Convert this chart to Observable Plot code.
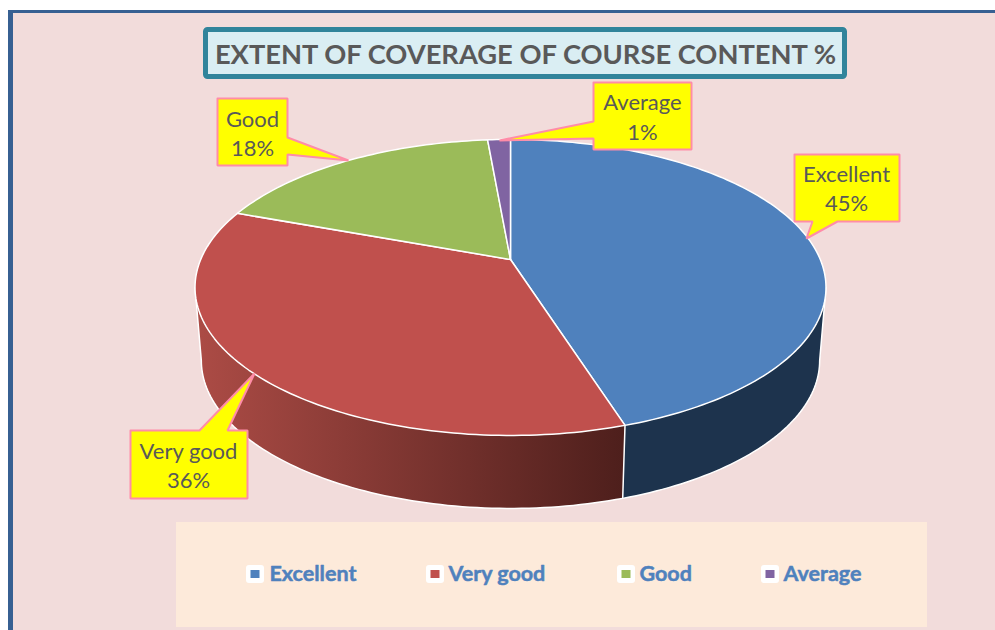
<!DOCTYPE html>
<html>
<head>
<meta charset="utf-8">
<script src="https://cdn.jsdelivr.net/npm/d3@7"></script>
<script src="https://cdn.jsdelivr.net/npm/@observablehq/plot@0.6"></script>
<style>html,body{margin:0;padding:0;background:#fff}svg{display:block}</style>
</head>
<body>
<div id="chart"></div>
<script>
// Data
const chartTitle = "EXTENT OF COVERAGE OF COURSE CONTENT %";
const categories = ["Excellent", "Very good", "Good", "Average"];
const shares = [45.1, 35.5, 18, 1.4];
const faceColors = ["#4F81BD", "#C0504D", "#9BBB59", "#8064A2"];

// Layout
const W = 995, H = 630;
const FONT = "Lato, 'Open Sans', sans-serif";
const INK = "#595959";
const PINK = "#FF8CA8";
const apex = {x: 510, y: 259};
const R = 309.8, S = 142.7, K = 0.189, DEPTH = 73, SHRINK = 0.98;

// Circle → perspective ellipse
function project(angle, low = false) {
  const u = Math.sin(angle), v = -Math.cos(angle), w = 1 - K * v;
  const f = low ? SHRINK : 1;
  return {
    x: apex.x + f * R * u / w,
    y: apex.y + S * v / w + (low ? DEPTH : 0)
  };
}
const pieArcs = d3.pie().sort(null).startAngle(0).endAngle(2 * Math.PI)(shares);
const arcAngles = (a0, a1, step = 0.02) => {
  const n = Math.max(2, Math.ceil((a1 - a0) / step));
  return d3.range(n + 1).map(i => a0 + (a1 - a0) * i / n);
};

const faces = pieArcs.flatMap((arc, i) => {
  const pts = [apex, ...arcAngles(arc.startAngle, arc.endAngle).map(a => project(a)), apex];
  return pts.map(p => ({...p, key: categories[i], color: faceColors[i]}));
});

// The angles where the pie is widest: the walls' visible ends
const aRight = Math.acos(-K), aLeft = 2 * Math.PI - aRight;
const aSplit = pieArcs[0].endAngle;

const wallOf = (a0, a1) => {
  const as = arcAngles(a0, a1);
  const top = as.map(a => project(a));
  const low = as.slice().reverse().map(a => project(a, true));
  return [...top, ...low, top[0]];
};
const blueWall = wallOf(aRight, aSplit);
const redWall = wallOf(aSplit, aLeft);

// White outline of the walls
const wallRim = [
  project(aRight),
  ...arcAngles(aRight, aLeft).map(a => project(a, true)),
  project(aLeft)
];
const seam = [project(aSplit), project(aSplit, true)];

// Callouts
const callouts = [
  {i: 0, box: [794, 154, 899, 221], ptr: [[812, 221], [806, 238], [837, 221]], cx: 846, ys: [174, 203]},
  {i: 1, box: [130, 430, 247, 498], ptr: [[199, 430], [254, 373], [227, 430]], cx: 188, ys: [451, 480]},
  {i: 2, box: [217, 98, 287, 165], ptr: [[287, 137], [348, 160], [287, 154]], cx: 252, ys: [119, 148]},
  {i: 3, box: [593, 82, 691, 149], ptr: [[593, 121], [499, 140], [593, 138]], cx: 642, ys: [102, 132]}
];
function calloutPath(c) {
  const [x0, y0, x1, y1] = c.box;
  let pts;
  if (c.i === 0)      pts = [[x0,y0],[x1,y0],[x1,y1],c.ptr[2],c.ptr[1],c.ptr[0],[x0,y1]];
  else if (c.i === 1) pts = [[x0,y0],c.ptr[0],c.ptr[1],c.ptr[2],[x1,y0],[x1,y1],[x0,y1]];
  else if (c.i === 2) pts = [[x0,y0],[x1,y0],c.ptr[0],c.ptr[1],c.ptr[2],[x1,y1],[x0,y1]];
  else                pts = [[x0,y0],[x1,y0],[x1,y1],[x0,y1],c.ptr[2],c.ptr[1],c.ptr[0]];
  pts.push(pts[0]);
  return pts.map(([x, y]) => ({x, y, key: categories[c.i]}));
}
const calloutLines = callouts.flatMap(calloutPath);
const calloutTexts = callouts.flatMap(c => [
  {x: c.cx, y: c.ys[0], t: categories[c.i]},
  {x: c.cx, y: c.ys[1], t: `${Math.round(shares[c.i])}%`}
]);

// Legend
const legendMarkerX = [255, 435, 626, 770];
const legendTextX = [269, 448, 639, 783];
const legendY = 574;
const legend = categories.map((name, i) => ({
  name, color: faceColors[i], mx: legendMarkerX[i], tx: legendTextX[i], y: legendY
}));

const chart = Plot.plot({
  width: W, height: H, margin: 0,
  x: {domain: [0, W], range: [0, W], axis: null},
  y: {domain: [0, H], range: [0, H], axis: null},
  marks: [
    // Backdrop and its blue border
    Plot.rect([{}], {x1: 8, x2: W, y1: 10, y2: H, fill: "#376092"}),
    Plot.rect([{}], {x1: 13, x2: W, y1: 13, y2: H, fill: "#F2DCDB"}),
    // Title
    Plot.rect([{}], {x1: 205.5, x2: 844.5, y1: 29.5, y2: 76.5, fill: "#DAEEF3", stroke: "#31849B", strokeWidth: 5, rx: 2}),
    Plot.text([chartTitle], {x: 525, y: 55, text: d => d, fontSize: 27.3, fontWeight: 700, fill: INK, fontFamily: FONT, textAnchor: "middle"}),
    // Legend panel
    Plot.rect([{}], {x1: 176, x2: 927, y1: 522, y2: 627, fill: "#FDEADA"}),
    // Side walls
    Plot.line(blueWall, {x: "x", y: "y", fill: "#1D334D", stroke: "none", curve: "linear"}),
    Plot.line(redWall, {x: "x", y: "y", fill: "url(#redShade)", stroke: "none", curve: "linear"}),
    Plot.line(wallRim, {x: "x", y: "y", stroke: "white", strokeWidth: 1.5, curve: "linear"}),
    Plot.line(seam, {x: "x", y: "y", stroke: "white", strokeWidth: 1.5, curve: "linear"}),
    // Top faces
    Plot.line(faces, {x: "x", y: "y", z: "key", fill: "color", stroke: "white", strokeWidth: 1.5, strokeLinejoin: "round", curve: "linear"}),
    // Callouts
    Plot.line(calloutLines, {x: "x", y: "y", z: "key", fill: "#FFFF00", stroke: PINK, strokeWidth: 2, strokeLinejoin: "miter", curve: "linear"}),
    Plot.text(calloutTexts, {x: "x", y: "y", text: "t", fontSize: 22, fill: INK, fontFamily: FONT, textAnchor: "middle"}),
    // Legend entries
    Plot.rect(legend, {x1: d => d.mx - 9, x2: d => d.mx + 9, y1: d => d.y - 9, y2: d => d.y + 9, fill: "white", rx: 3}),
    Plot.rect(legend, {x1: d => d.mx - 4.5, x2: d => d.mx + 4.5, y1: d => d.y - 4, y2: d => d.y + 4, fill: "color"}),
    Plot.text(legend, {x: "tx", y: "y", text: "name", fontSize: 21.5, fontWeight: 700, fill: "#4F81BD", stroke: "#4F81BD", strokeWidth: 0.5, fontFamily: FONT, textAnchor: "start"})
  ]
});
// Left-to-right shading of the red wall
const grad = d3.select(chart).insert("defs", ":first-child")
  .append("linearGradient").attr("id", "redShade")
  .attr("gradientUnits", "userSpaceOnUse")
  .attr("x1", 200).attr("x2", 622).attr("y1", 0).attr("y2", 0);
grad.append("stop").attr("offset", 0).attr("stop-color", "#AB4B45");
grad.append("stop").attr("offset", 1).attr("stop-color", "#4E1F1C");
document.getElementById("chart").append(chart);
</script>
</body>
</html>
